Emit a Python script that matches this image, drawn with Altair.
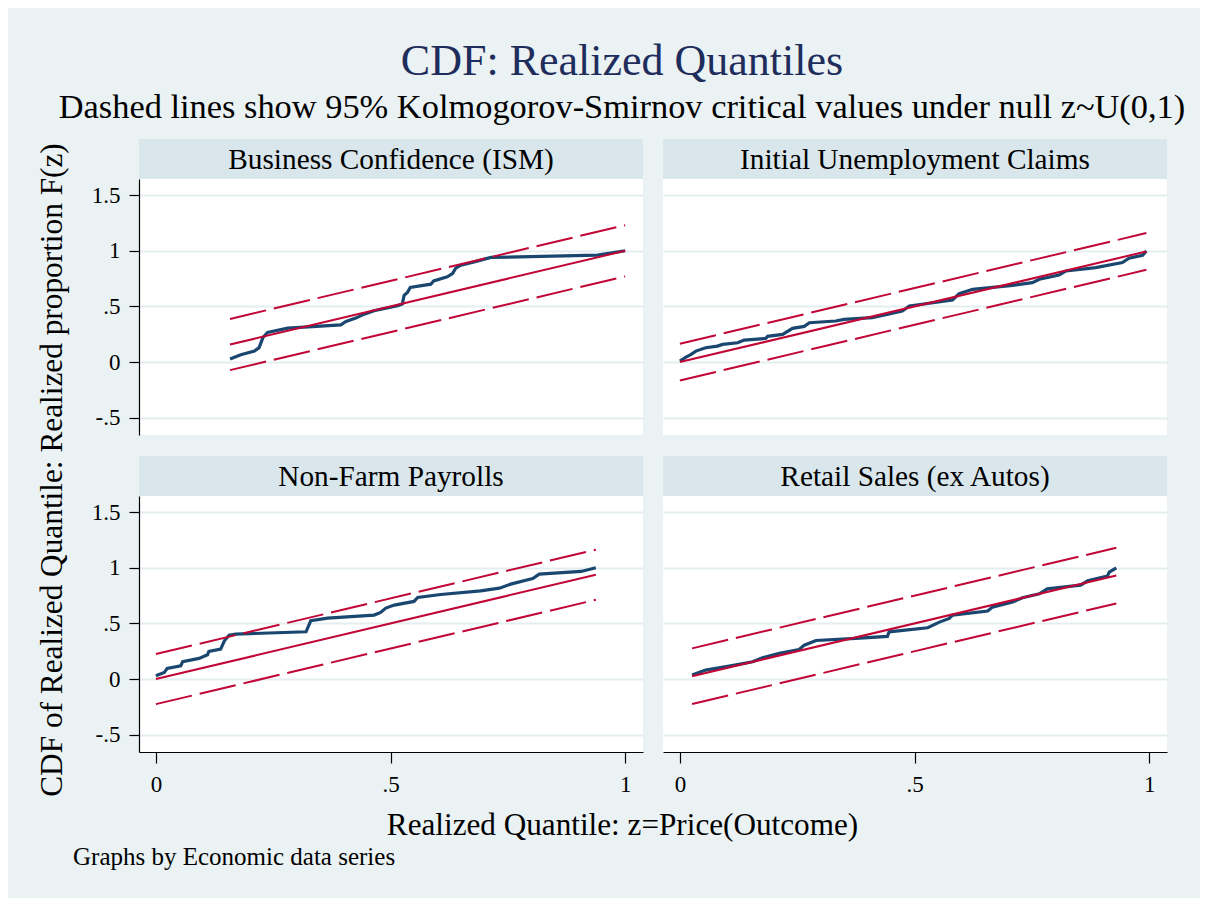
import altair as alt
import pandas as pd

FONT = "Liberation Serif"
BG = "#EAF2F3"
STRIP = "#D9E6EB"
GRID = "#E4EDF0"
BLUE = "#1A476F"
RED = "#C10534"
TITLE_COLOR = "#1F2D5C"

# ---- data ----
SERIES = [
    "Business Confidence (ISM)",
    "Initial Unemployment Claims",
    "Non-Farm Payrolls",
    "Retail Sales (ex Autos)",
]

BC_X = [0.158, 0.181, 0.21, 0.22, 0.228, 0.238, 0.281, 0.394, 0.405, 0.426, 0.444, 0.465, 0.515, 0.525,
        0.529, 0.536, 0.542, 0.586, 0.592, 0.621, 0.632, 0.639, 0.65, 0.678, 0.714, 0.941, 1.0]
BC_Y = [0.027, 0.066, 0.10, 0.13, 0.22, 0.266, 0.305, 0.335, 0.365, 0.395, 0.431, 0.461, 0.506, 0.521,
        0.60, 0.626, 0.671, 0.70, 0.73, 0.766, 0.796, 0.844, 0.871, 0.90, 0.94, 0.961, 1.0]

IUC_X = [0.0, 0.013, 0.024, 0.034, 0.055, 0.080, 0.091, 0.123, 0.137, 0.183, 0.187, 0.219, 0.240, 0.265,
         0.276, 0.332, 0.35, 0.41, 0.474, 0.489, 0.581, 0.595, 0.624, 0.709, 0.751, 0.766, 0.808, 0.823,
         0.886, 0.943, 0.957, 0.986, 0.994]
IUC_Y = [0.01, 0.045, 0.069, 0.099, 0.129, 0.144, 0.159, 0.174, 0.198, 0.213, 0.231, 0.249, 0.303, 0.321,
         0.354, 0.369, 0.384, 0.399, 0.459, 0.504, 0.558, 0.615, 0.654, 0.69, 0.714, 0.744, 0.783, 0.819,
         0.849, 0.894, 0.933, 0.96, 0.998]

NFP_X = [0.0, 0.018, 0.024, 0.053, 0.057, 0.092, 0.11, 0.113, 0.138, 0.146, 0.156, 0.17, 0.32, 0.33,
         0.366, 0.465, 0.479, 0.49, 0.508, 0.55, 0.558, 0.607, 0.692, 0.732, 0.756, 0.803, 0.817, 0.906, 0.9375]
NFP_Y = [0.03, 0.06, 0.096, 0.12, 0.156, 0.186, 0.219, 0.249, 0.269, 0.344, 0.395, 0.404, 0.425, 0.524,
         0.548, 0.575, 0.599, 0.638, 0.665, 0.698, 0.734, 0.76, 0.793, 0.817, 0.853, 0.904, 0.943, 0.967, 1.0]

RS_X = [0.026, 0.055, 0.105, 0.155, 0.176, 0.212, 0.254, 0.265, 0.29, 0.375, 0.442, 0.446, 0.528, 0.553,
        0.574, 0.581, 0.656, 0.666, 0.709, 0.73, 0.766, 0.783, 0.854, 0.869, 0.911, 0.915, 0.93]
RS_Y = [0.036, 0.081, 0.117, 0.156, 0.192, 0.231, 0.266, 0.305, 0.347, 0.365, 0.383, 0.425, 0.461, 0.512,
        0.545, 0.575, 0.611, 0.647, 0.692, 0.731, 0.766, 0.811, 0.844, 0.883, 0.925, 0.961, 1.0]

# 95% Kolmogorov-Smirnov critical distance for each series
KS_D = [0.23, 0.165, 0.225, 0.25]

Y_TICKS = [-0.5, 0, 0.5, 1, 1.5]
X_TICKS = [0, 0.5, 1]

TITLE = "CDF: Realized Quantiles"
SUBTITLE = "Dashed lines show 95% Kolmogorov-Smirnov critical values under null z~U(0,1)"
Y_TITLE = "CDF of Realized Quantile: Realized proportion F(z)"
X_TITLE = "Realized Quantile: z=Price(Outcome)"
NOTE = "Graphs by Economic data series"

# ---- tables ----
XS = [BC_X, IUC_X, NFP_X, RS_X]
YS = [BC_Y, IUC_Y, NFP_Y, RS_Y]

curve_rows = []
ref_rows = []
for name, xs, ys, d in zip(SERIES, XS, YS, KS_D):
    for i, (x, y) in enumerate(zip(xs, ys)):
        curve_rows.append({"series": name, "x": x, "y": y, "i": i})
    for kind, off in (("fit", 0.0), ("upper", d), ("lower", -d)):
        for x in (xs[0], xs[-1]):
            ref_rows.append({"series": name, "kind": kind, "x": x, "y": x + off})
curves = pd.DataFrame(curve_rows)
refs = pd.DataFrame(ref_rows)

# ---- layout (pixels) ----
W, H, SH = 504, 256, 40
X_DOMAIN = [-0.036, 1.038]
Y_DOMAIN = [-0.655, 1.645]
LABEL_EXPR = "replace(toString(datum.value), '0.', '.')"


def text_layer(txt, size, x, y, angle=0, align="center"):
    kw = dict(font=FONT, fontSize=size, color="black", align=align, baseline="alphabetic")
    if angle:
        kw.update(angle=angle, baseline="middle")
    return alt.Chart(pd.DataFrame({"t": [txt]})).mark_text(**kw).encode(
        text="t:N", x=alt.value(x), y=alt.value(y))


def panel(name, left, bottom, extra=()):
    if left:
        yaxis = alt.Axis(values=Y_TICKS, labelExpr=LABEL_EXPR, grid=True, gridColor=GRID, gridWidth=2,
                         domain=True, domainColor="black", domainWidth=1.2, ticks=True, tickColor="black",
                         tickWidth=1.2, tickSize=10, labels=True, labelFont=FONT, labelFontSize=23,
                         labelColor="black", labelPadding=9, title=None)
    else:
        yaxis = alt.Axis(values=Y_TICKS, grid=True, gridColor=GRID, gridWidth=2, domain=False,
                         ticks=False, labels=False, title=None)
    if bottom:
        xaxis = alt.Axis(values=X_TICKS, labelExpr=LABEL_EXPR, grid=False, domain=True, domainColor="black",
                         domainWidth=1.2, ticks=True, tickColor="black", tickWidth=1.2, tickSize=11,
                         labelFont=FONT, labelFontSize=23, labelColor="black", labelPadding=10, title=None)
    else:
        xaxis = None
    X = alt.X("x:Q", scale=alt.Scale(domain=X_DOMAIN, nice=False, zero=False), axis=xaxis)
    Y = alt.Y("y:Q", scale=alt.Scale(domain=Y_DOMAIN, nice=False, zero=False), axis=yaxis)

    c = curves[curves["series"] == name]
    r = refs[refs["series"] == name]
    label = pd.DataFrame({"t": [name]})
    strip_bg = alt.Chart(label).mark_rect(color=STRIP).encode(
        x=alt.value(0), x2=alt.value(W), y=alt.value(-SH), y2=alt.value(0))
    strip_txt = text_layer(name, 29.3, W / 2, -10)
    curve = alt.Chart(c).mark_line(color=BLUE, strokeWidth=3.2).encode(x=X, y=Y, order="i:Q")
    fit = alt.Chart(r[r["kind"] == "fit"]).mark_line(color=RED, strokeWidth=2).encode(x=X, y=Y)
    bands = alt.Chart(r[r["kind"] != "fit"]).mark_line(
        color=RED, strokeWidth=2, strokeDash=[37, 8]).encode(x=X, y=Y, detail="kind:N")
    return alt.layer(curve, fit, bands, strip_bg, strip_txt, *extra).properties(
        width=W, height=H, view=alt.ViewBackground(fill="white", strokeWidth=0))


# axis titles and the note are placed relative to the bottom-left panel
extras = [
    text_layer(Y_TITLE, 31.3, -86, -26, angle=270),
    text_layer(X_TITLE, 31.2, 483.5, 339),
    text_layer(NOTE, 25, -66, 369, align="left"),
]

chart = alt.concat(
    panel(SERIES[0], True, False),
    panel(SERIES[1], False, False),
    panel(SERIES[2], True, True, extras),
    panel(SERIES[3], False, True),
    columns=2, spacing={"row": 61, "column": 20}, bounds="flush",
).properties(
    title=alt.TitleParams(
        text=TITLE, subtitle=SUBTITLE, font=FONT, fontSize=44, fontWeight="normal", color=TITLE_COLOR,
        subtitleFont=FONT, subtitleFontSize=34.4, subtitleColor="black", subtitlePadding=7,
        anchor="middle", dx=20, offset=15,
    ),
    padding={"left": 28, "top": 31, "right": 14, "bottom": 28},
).configure(background=BG).configure_view(strokeWidth=0)

chart.save("out.html", embed_options={"renderer": "svg", "actions": False})
